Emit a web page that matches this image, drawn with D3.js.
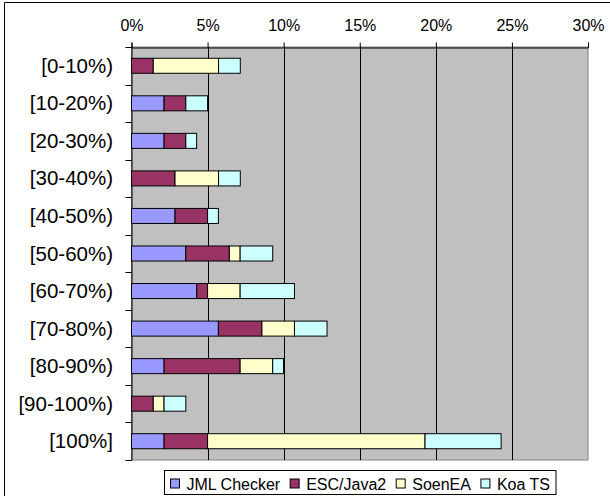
<!DOCTYPE html>
<html>
<head>
<meta charset="utf-8">
<script src="https://cdn.jsdelivr.net/npm/d3@7"></script>
<style>
  body { margin: 0; background: #fff; }
  text { font-family: "Liberation Sans", Arial, sans-serif; fill: #000; }
</style>
</head>
<body>
<div id="chart"></div>
<script>
// categories and series values (percent)
const categories = ['[0-10%)', '[10-20%)', '[20-30%)', '[30-40%)', '[40-50%)', '[50-60%)',
    '[60-70%)', '[70-80%)', '[80-90%)', '[90-100%)', '[100%]'];
const seriesNames = ['JML Checker', 'ESC/Java2', 'SoenEA', 'Koa TS'];
const jmlChecker = [0, 2.14, 2.14, 0, 2.86, 3.57, 4.29, 5.71, 2.14, 0, 2.14];
const escJava2 = [1.43, 1.43, 1.43, 2.86, 2.14, 2.86, 0.71, 2.86, 5.0, 1.43, 2.86];
const soenEA = [4.29, 0, 0, 2.86, 0, 0.71, 2.14, 2.14, 2.14, 0.71, 14.29];
const koaTS = [1.43, 1.43, 0.71, 1.43, 0.71, 2.14, 3.57, 2.14, 0.71, 1.43, 5.0];
const xTicks = [0, 5, 10, 15, 20, 25, 30];
const colours = ['#9999FF', '#993366', '#FFFFCC', '#CCFFFF'];

const W = 610, H = 496;
const plot = { left: 131.5, right: 588, top: 47, bottom: 460 };

const svg = d3.select('#chart').append('svg')
    .attr('width', W)
    .attr('height', H);

// outer chart border (only top and left visible)
svg.append('path')
    .attr('d', `M4.5,${H} V2.5 H${W}`)
    .attr('fill', 'none')
    .attr('stroke', '#000');

// table for the stack
const rows = categories.map((c, i) => ({
    cat: c,
    'JML Checker': jmlChecker[i],
    'ESC/Java2': escJava2[i],
    'SoenEA': soenEA[i],
    'Koa TS': koaTS[i]
}));
const stacked = d3.stack().keys(seriesNames)(rows);

const x = d3.scaleLinear().domain([0, 30]).range([plot.left, plot.right]);
const y = d3.scaleBand()
    .domain(categories)
    .range([plot.top, plot.bottom])
    .paddingInner(0.6)
    .paddingOuter(0.3);

// plot area
svg.append('rect')
    .attr('x', plot.left)
    .attr('y', plot.top)
    .attr('width', plot.right - plot.left)
    .attr('height', plot.bottom - plot.top)
    .attr('fill', '#C0C0C0')
    .attr('stroke', '#808080');

// gridlines
svg.append('g')
    .selectAll('line')
    .data(xTicks.slice(1, -1))
    .enter()
    .append('line')
    .attr('x1', d => Math.round(x(d)) + 0.5)
    .attr('x2', d => Math.round(x(d)) + 0.5)
    .attr('y1', plot.top)
    .attr('y2', plot.bottom)
    .attr('stroke', '#000');

// top axis
const xAxis = svg.append('g')
    .attr('transform', `translate(0, ${plot.top + 0.5})`)
    .call(d3.axisTop(x).tickValues(xTicks).tickFormat(d => d + '%').tickSize(5).tickPadding(12));
xAxis.select('.domain').attr('stroke', '#000');
xAxis.selectAll('.tick line').attr('stroke', '#000');
xAxis.selectAll('text').style('font-size', '16px').attr('fill', '#000');

// left axis line + ticks at band boundaries
svg.append('line')
    .attr('x1', plot.left + 0.5).attr('x2', plot.left + 0.5)
    .attr('y1', plot.top).attr('y2', plot.bottom)
    .attr('stroke', '#000');
svg.append('g')
    .selectAll('line')
    .data(d3.range(categories.length + 1))
    .enter()
    .append('line')
    .attr('x1', plot.left - 6)
    .attr('x2', plot.left + 0.5)
    .attr('y1', i => Math.round(plot.top + i * y.step()) + 0.5)
    .attr('y2', i => Math.round(plot.top + i * y.step()) + 0.5)
    .attr('stroke', '#000');

// category labels
svg.append('g')
    .selectAll('text')
    .data(categories)
    .enter()
    .append('text')
    .attr('x', 113)
    .attr('y', d => y(d) + y.bandwidth() / 2 + 7)
    .attr('text-anchor', 'end')
    .style('font-size', '20.5px')
    .text(d => d);

// stacked bars
svg.append('g')
    .selectAll('g')
    .data(stacked)
    .enter()
    .append('g')
    .attr('fill', (d, i) => colours[i])
    .selectAll('rect')
    .data(d => d.filter(s => s[1] - s[0] > 0))
    .enter()
    .append('rect')
    .attr('x', d => x(d[0]))
    .attr('y', d => y(d.data.cat))
    .attr('width', d => x(d[1]) - x(d[0]))
    .attr('height', y.bandwidth())
    .attr('stroke', '#000')
    .attr('stroke-width', 1);

// legend
const legend = svg.append('g');
const legendBox = legend.append('rect')
    .attr('fill', '#fff')
    .attr('stroke', '#000');
let lx = 6;
seriesNames.forEach((name, i) => {
    legend.append('rect')
        .attr('x', lx)
        .attr('y', 8.5)
        .attr('width', 9)
        .attr('height', 9)
        .attr('fill', colours[i])
        .attr('stroke', '#000');
    const t = legend.append('text')
        .attr('x', lx + 16)
        .attr('y', 19)
        .style('font-size', '16px')
        .text(name);
    lx += 16 + t.node().getComputedTextLength() + (i < seriesNames.length - 1 ? 10 : 6);
});
legendBox.attr('x', 0).attr('y', 0).attr('width', lx).attr('height', 24);
const cx = (plot.left + plot.right) / 2;
legend.attr('transform', `translate(${Math.round(cx - lx / 2) + 0.5}, 470.5)`);
</script>
</body>
</html>
